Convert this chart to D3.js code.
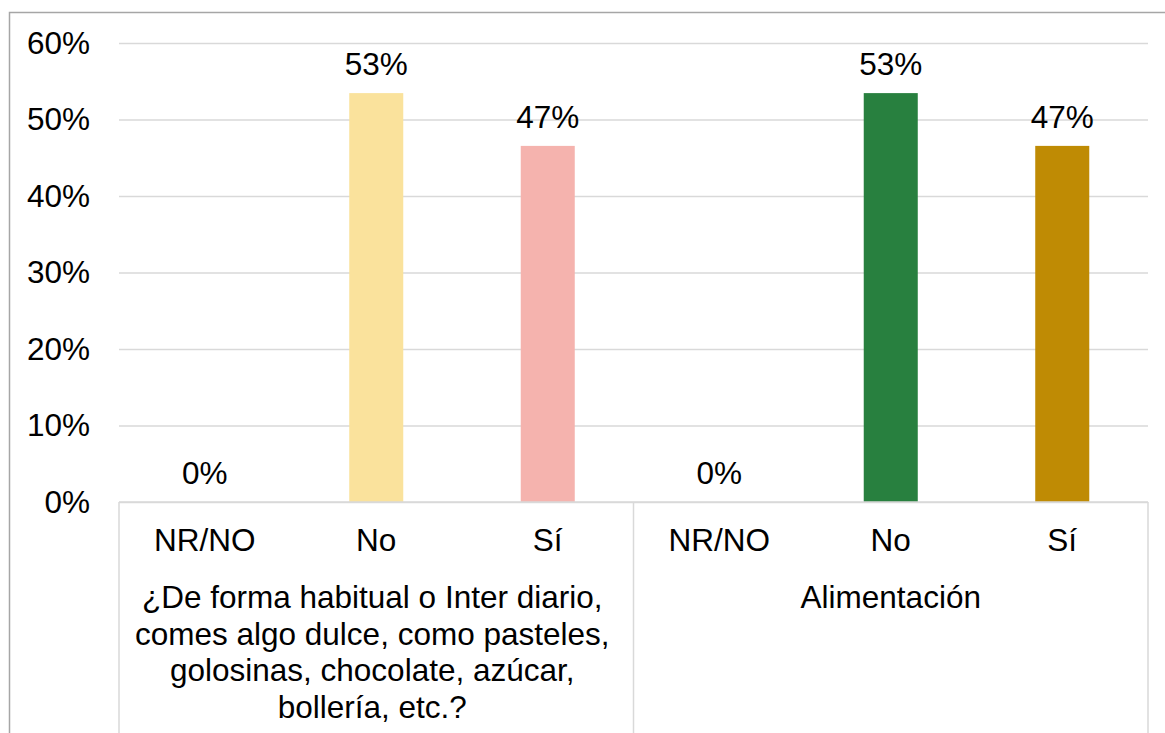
<!DOCTYPE html>
<html>
<head>
<meta charset="utf-8">
<script src="https://cdn.jsdelivr.net/npm/d3@7"></script>
<style>
  body { margin: 0; background: #fff; }
  svg { display: block; font-family: "Liberation Sans", Arial, sans-serif; }
</style>
</head>
<body>
<div id="chart"></div>
<script>
// Data
const groups = ["g1", "g2"];
const groupLabels = [
  ["¿De forma habitual o Inter diario,", "comes algo dulce, como pasteles,", "golosinas, chocolate, azúcar,", "bollería, etc.?"],
  ["Alimentación"]
];
const categories = ["NR/NO", "No", "Sí"];
const valuesG1 = [0, 53.45, 46.55];
const valuesG2 = [0, 53.45, 46.55];
const colorsG1 = ["#ffffff", "#FAE29C", "#F5B3AE"];
const colorsG2 = ["#ffffff", "#28803F", "#BF8B04"];
const yTicks = [0, 10, 20, 30, 40, 50, 60];

const width = 1165;
const height = 733;
const marginLeft = 119;
const marginRight = 17;
const marginTop = 43;
const plotBottom = 502;
const fontSize = 31.5;

const rows = [];
[valuesG1, valuesG2].forEach((vals, gi) => {
  vals.forEach((v, ci) => {
    rows.push({
      group: groups[gi],
      cat: categories[ci],
      value: v,
      color: (gi === 0 ? colorsG1 : colorsG2)[ci]
    });
  });
});

// Scales
const xGroup = d3.scaleBand()
  .domain(groups)
  .range([marginLeft, width - marginRight])
  .padding(0);

const xCat = d3.scaleBand()
  .domain(categories)
  .range([0, xGroup.bandwidth()])
  .paddingInner(0.685)
  .paddingOuter(0.3425);

const y = d3.scaleLinear()
  .domain([0, 60])
  .range([plotBottom, marginTop]);

const svg = d3.select("#chart")
  .append("svg")
  .attr("width", width)
  .attr("height", height)
  .attr("viewBox", [0, 0, width, height]);

// Outer chart border
svg.append("rect")
  .attr("x", 9.5)
  .attr("y", 12.5)
  .attr("width", width)
  .attr("height", height)
  .attr("fill", "none")
  .attr("stroke", "#a6a6a6")
  .attr("stroke-width", 1.5);

// Y axis with gridlines
svg.append("g")
  .attr("transform", `translate(${marginLeft},0)`)
  .call(d3.axisLeft(y)
    .tickValues(yTicks)
    .tickSize(-(width - marginRight - marginLeft))
    .tickPadding(29)
    .tickFormat(d => d + "%"))
  .call(g => g.select(".domain").remove())
  .call(g => g.selectAll(".tick line")
    .attr("stroke", "#d9d9d9")
    .attr("stroke-width", 1.5))
  .call(g => g.selectAll(".tick text")
    .attr("font-size", fontSize)
    .attr("fill", "#000")
    .attr("font-family", "Liberation Sans, Arial, sans-serif"));

// Bars
svg.append("g")
  .selectAll("rect")
  .data(rows)
  .join("rect")
  .attr("x", d => xGroup(d.group) + xCat(d.cat))
  .attr("y", d => y(d.value))
  .attr("width", xCat.bandwidth())
  .attr("height", d => y(0) - y(d.value))
  .attr("fill", d => d.color);

// Value labels
svg.append("g")
  .selectAll("text")
  .data(rows)
  .join("text")
  .attr("x", d => xGroup(d.group) + xCat(d.cat) + xCat.bandwidth() / 2)
  .attr("y", d => y(d.value) - 18)
  .attr("text-anchor", "middle")
  .attr("font-size", fontSize)
  .attr("fill", "#000")
  .text(d => Math.round(d.value) + "%");

// Category axis lines
const axisG = svg.append("g");
axisG.append("line")
  .attr("x1", marginLeft)
  .attr("x2", width - marginRight)
  .attr("y1", plotBottom)
  .attr("y2", plotBottom)
  .attr("stroke", "#d9d9d9")
  .attr("stroke-width", 1.5);

const dividers = groups.map(g => xGroup(g)).concat([xGroup(groups[groups.length - 1]) + xGroup.bandwidth()]);
axisG.selectAll("line.div")
  .data(dividers)
  .join("line")
  .attr("class", "div")
  .attr("x1", d => d)
  .attr("x2", d => d)
  .attr("y1", plotBottom)
  .attr("y2", height)
  .attr("stroke", "#d9d9d9")
  .attr("stroke-width", 1.5);

// Category labels
axisG.selectAll("text.cat")
  .data(rows)
  .join("text")
  .attr("class", "cat")
  .attr("x", d => xGroup(d.group) + xGroup.bandwidth() * (categories.indexOf(d.cat) + 0.5) / categories.length)
  .attr("y", 551)
  .attr("text-anchor", "middle")
  .attr("font-size", fontSize)
  .attr("fill", "#000")
  .text(d => d.cat);

// Group labels (wrapped lines)
groups.forEach((g, gi) => {
  const cx = xGroup(g) + xGroup.bandwidth() / 2 - (gi === 0 ? 4 : 0);
  const t = axisG.append("text")
    .attr("x", cx)
    .attr("y", 608)
    .attr("text-anchor", "middle")
    .attr("font-size", fontSize)
    .attr("fill", "#000");
  groupLabels[gi].forEach((line, i) => {
    t.append("tspan")
      .attr("x", cx)
      .attr("dy", i === 0 ? 0 : 36.7)
      .text(line);
  });
});
</script>
</body>
</html>
